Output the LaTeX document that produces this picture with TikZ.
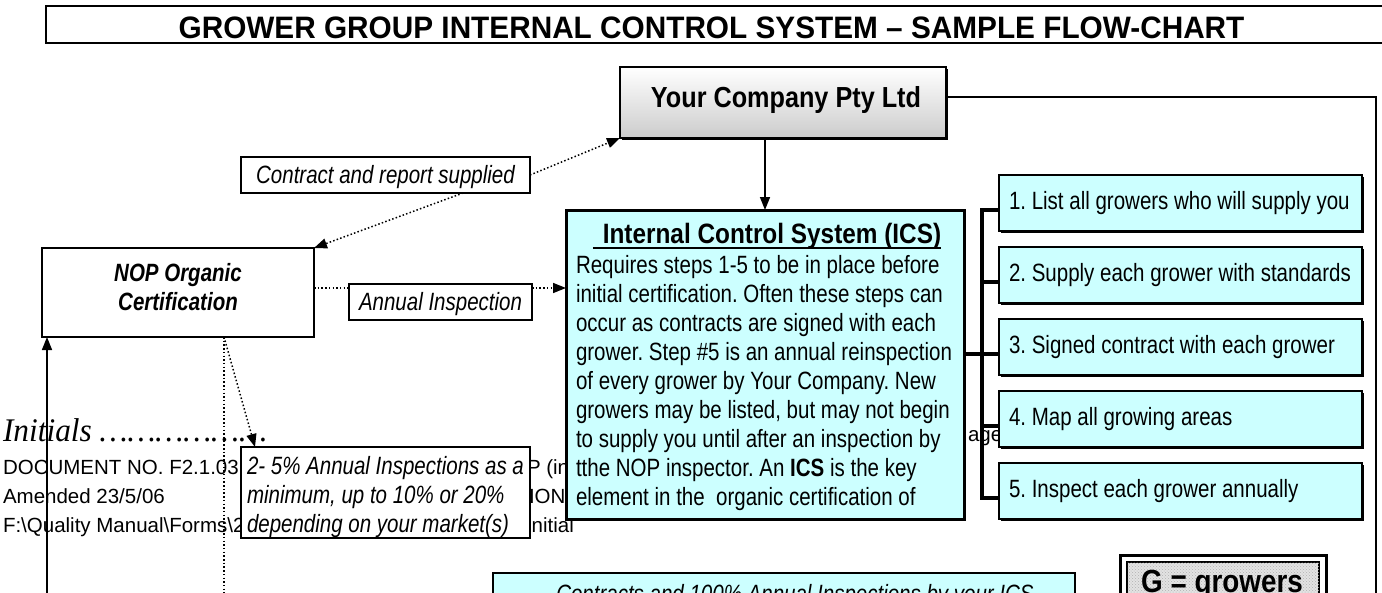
\documentclass[tikz,border=0pt]{standalone}
\usepackage{fontspec}
\setmainfont{Liberation Sans}
\newfontfamily\sq[FakeStretch=0.82]{Liberation Sans}
\newfontfamily\sqb[FakeStretch=0.87]{Liberation Sans}
\newfontfamily\sqtitle[FakeStretch=0.96]{Liberation Sans}
\newfontfamily\tnr[FakeStretch=0.95]{Liberation Serif}
\usetikzlibrary{arrows.meta,shadows,patterns,calc}
\definecolor{icscyan}{HTML}{CCFFFF}
\newcommand{\myellip}{\char"2026\relax}
\frenchspacing
\begin{document}
\begin{tikzpicture}[x=1pt,y=-1pt,
  every node/.style={inner sep=0pt,outer sep=0pt},
  bx/.style={draw=black,line width=1.5pt,rectangle},
  capc/.style={text height=17.9pt,text depth=0pt},
  ftxt/.style={font=\sq\fontsize{25pt}{29pt}\selectfont},
  itxt/.style={font=\sq\itshape\fontsize{25pt}{29pt}\selectfont},
  bitxt/.style={font=\sq\bfseries\itshape\fontsize{25pt}{29pt}\selectfont},
  foot/.style={font=\fontsize{20.5pt}{29pt}\selectfont,anchor=base west},
  arr/.style={line width=1.5pt,-{Triangle[length=13pt,width=10pt]}},
  dotln/.style={line width=1.5pt,dash pattern=on 1.5pt off 2.2pt},
  dotarr/.style={dotln,-{Triangle[length=13pt,width=10pt]}},
  brk/.style={line width=3.5pt},
  shd/.style={drop shadow={shadow xshift=2pt,shadow yshift=-2pt,opacity=1,fill=black}},
  stepbox/.style={bx,shd,fill=icscyan,minimum width=363,minimum height=56},
  steptxt/.style={ftxt,capc,anchor=west},
]
\useasboundingbox (0,0) rectangle (1382,592);
\clip (0,0) rectangle (1382,592);
\fill[white] (0,0) rectangle (1382,592);

% title
\node[bx,minimum width=1354,minimum height=37] (title) at (723,24.5) {};
\node[font=\sqtitle\bfseries\fontsize{31pt}{31pt}\selectfont,anchor=base] (titletxt) at (711.5,38.5) {GROWER GROUP INTERNAL CONTROL SYSTEM – SAMPLE FLOW-CHART};

% background footer/header text (partly hidden)
\node[foot] (ini) at (3,441) {\tnr\itshape\fontsize{33pt}{33pt}\selectfont Initials \myellip\myellip\myellip\myellip\myellip\myellip};
\node[foot] (f1) at (3,474) {DOCUMENT NO. F2.1.03};
\node[foot] (f2) at (3,503) {Amended 23/5/06};
\node[foot] (f3) at (3,532) {F:\textbackslash Quality Manual\textbackslash Forms\textbackslash 2};
\node[foot] (f4) at (527,474) {P (in};
\node[foot] (f5) at (529,503) {ION};
\node[foot] (f6) at (526,532) {Initial};
\node[foot] (pg) at (968,441) {age};

% Your Company
\node[bx,shd,shade,top color=white,bottom color=gray!40,minimum width=326,minimum height=71] (yc) at (783,102.5) {};
\node[font=\sqb\bfseries\fontsize{29pt}{29pt}\selectfont,anchor=base] (yct) at (786,107) {Your Company Pty Ltd};

% contract label
\node[bx,fill=white,minimum width=289,minimum height=36,itxt,capc] (ctr) at (385.5,175) {Contract and report supplied};

% NOP
\node[bx,fill=white,minimum width=272,minimum height=89] (nop) at (178,292.5) {};
\node[bitxt,capc] (nop1) at (178,273) {NOP Organic};
\node[bitxt,capc] (nop2) at (178,302) {Certification};

% annual inspection label
\node[bx,fill=white,minimum width=183,minimum height=36,itxt,capc] (ann) at (440.5,302) {Annual Inspection};

% ICS
\node[bx,line width=3pt,fill=icscyan,shd,minimum width=398,minimum height=309] (ics) at (765,364.5) {};
\node[font=\sqb\bfseries\fontsize{28pt}{28pt}\selectfont,text height=20pt,text depth=0pt] (icst) at (772,233) {Internal Control System (ICS)};
\draw[line width=2pt] ($(icst.south west)+(-10,5)$) -- ($(icst.south east)+(0,5)$);
\node[ftxt,anchor=base west] (l1) at (576,273.9) {Requires steps 1-5 to be in place before};
\node[ftxt,anchor=base west] (l2) at (576,302.9) {initial certification. Often these steps can};
\node[ftxt,anchor=base west] (l3) at (576,331.9) {occur as contracts are signed with each};
\node[ftxt,anchor=base west] (l4) at (576,360.9) {grower. Step \#5 is an annual reinspection};
\node[ftxt,anchor=base west] (l5) at (576,389.9) {of every grower by Your Company. New};
\node[ftxt,anchor=base west] (l6) at (576,418.9) {growers may be listed, but may not begin};
\node[ftxt,anchor=base west] (l7) at (576,447.9) {to supply you until after an inspection by};
\node[ftxt,anchor=base west] (l8) at (576,476.9) {tthe NOP inspector. An \textbf{ICS} is the key};
\node[ftxt,anchor=base west] (l9) at (576,505.9) {element in the\ \ organic certification of};

% steps
\node[stepbox] (s1) at (1180.5,203) {};
\node[stepbox] (s2) at (1180.5,275) {};
\node[stepbox] (s3) at (1180.5,347) {};
\node[stepbox] (s4) at (1180.5,419) {};
\node[stepbox] (s5) at (1180.5,491) {};
\node[steptxt] (s1t) at ($(s1.west)+(10,-2)$) {1. List all growers who will supply you};
\node[steptxt] (s2t) at ($(s2.west)+(10,-2)$) {2. Supply each grower with standards};
\node[steptxt] (s3t) at ($(s3.west)+(10,-2)$) {3. Signed contract with each grower};
\node[steptxt] (s4t) at ($(s4.west)+(10,-2)$) {4. Map all growing areas};
\node[steptxt] (s5t) at ($(s5.west)+(10,-2)$) {5. Inspect each grower annually};

% 2-5% label
\node[bx,fill=white,minimum width=289,minimum height=91] (pct) at (385.5,492.5) {};
\node[itxt,anchor=base west] (p1) at (247,474.9) {2- 5\% Annual Inspections as a};
\node[itxt,anchor=base west] (p2) at (247,503.9) {minimum, up to 10\% or 20\%};
\node[itxt,anchor=base west] (p3) at (247,532.9) {depending on your market(s)};

% contracts box (bottom)
\node[bx,line width=2.5pt,fill=icscyan,minimum width=582,minimum height=67] (cont) at (784,606.5) {};
\node[itxt,anchor=base] (contt) at (795,602) {Contracts and 100\% Annual Inspections by your ICS};

% G = growers
\node[draw,line width=3pt,fill=white,minimum width=206,minimum height=85] (gout) at (1223,597.5) {};
\node[draw,line width=1.2pt,fill=gray!22,postaction={pattern=crosshatch dots,pattern color=gray!60},minimum width=192,minimum height=71] (gin) at (gout.center) {};
\node[font=\sqb\bfseries\fontsize{32pt}{32pt}\selectfont,anchor=base] (gt) at (1222,592) {G = growers};

% connectors
\draw[arr] (ics.north |- yc.south) -- (ics.north);
\draw[dotarr] (ctr.east) -- (yc.south west);
\draw[dotarr] ($(ctr.south east)+(-67,0)$) -- (nop.north east);
\coordinate (yAI) at (0,288);
\draw[dotln] (nop.east |- yAI) -- (ann.west |- yAI);
\draw[dotarr] (ann.east |- yAI) -- (ics.west |- yAI);
\coordinate (ycR) at (1376,97);
\coordinate (botR) at (1376,600);
\draw[line width=1.3pt] (yc.east |- ycR) -- (ycR) -- (botR);
\coordinate (botL) at (47,600);
\draw[arr] (botL) -- (botL |- nop.south);
\coordinate (botM) at (224,600);
\draw[dotln] (botM |- nop.south) -- (botM);
\coordinate (tipx) at (255,0);
\draw[dotarr] (botM |- nop.south) -- (tipx |- pct.north);

% bracket
\coordinate (bk1) at (982,210);
\coordinate (bk2) at (982,282);
\coordinate (bk3) at (982,354);
\coordinate (bk4) at (982,426);
\coordinate (bk5) at (982,498);
\draw[brk] (s1.west |- bk1) -- (bk1) -- (bk5) -- (s5.west |- bk5);
\draw[brk] (bk2) -- (s2.west |- bk2);
\draw[brk] (bk3) -- (s3.west |- bk3);
\draw[brk] (bk4) -- (s4.west |- bk4);
\draw[brk] (ics.east |- bk3) -- (bk3);
\end{tikzpicture}
\end{document}
